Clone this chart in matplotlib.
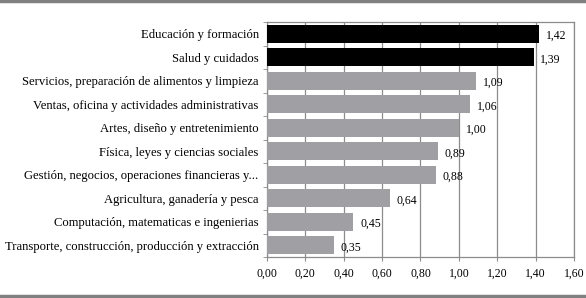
import numpy as np
import matplotlib
matplotlib.use('Agg')
import matplotlib.pyplot as plt
from matplotlib.lines import Line2D

plt.rcParams['font.family'] = ['Liberation Serif', 'DejaVu Serif']

# Data (top to bottom as shown)
categories = [
    "Educación y formación",
    "Salud y cuidados",
    "Servicios, preparación de alimentos y limpieza",
    "Ventas, oficina y actividades administrativas",
    "Artes, diseño y entretenimiento",
    "Física, leyes y ciencias sociales",
    "Gestión, negocios, operaciones financieras y...",
    "Agricultura, ganadería y pesca",
    "Computación, matematicas e ingenierias",
    "Transporte, construcción, producción y extracción",
]
values = [1.42, 1.39, 1.09, 1.06, 1.00, 0.89, 0.88, 0.64, 0.45, 0.35]
highlight = [True, True, False, False, False, False, False, False, False, False]

grid_col = '#8c8c8c'
colors = ['black' if h else '#a0a0a4' for h in highlight]

fig = plt.figure(figsize=(5.86, 2.98), dpi=100)
ax = fig.add_axes([0.4556, 0.1376, 0.9795 - 0.4556, 0.926 - 0.1376])

y = np.arange(len(categories))[::-1]
bars = ax.barh(y, values, height=0.78, color=colors, zorder=3)

ax.set_xlim(0, 1.6)
ax.set_ylim(-0.5, len(categories) - 0.5)
ax.set_xticks(np.arange(0, 1.61, 0.2))
ax.set_xticklabels([f"{v:.2f}".replace('.', ',') for v in np.arange(0, 1.61, 0.2)],
                   fontsize=8.5)
ax.set_yticks(y)
ax.set_yticklabels(categories, fontsize=9.1)
ax.tick_params(axis='y', length=0, pad=6)
ax.tick_params(axis='x', length=3, color=grid_col, pad=5)
ax.set_yticks(np.arange(-0.5, len(categories), 1), minor=True)
ax.tick_params(axis='y', which='minor', length=3, color=grid_col)

ax.grid(axis='x', color=grid_col, linewidth=0.9, zorder=0)
ax.set_axisbelow(True)
for s in ax.spines.values():
    s.set_color(grid_col)
    s.set_linewidth(0.9)

# value labels
for bar, v in zip(bars, values):
    ax.text(bar.get_width() + 0.035, bar.get_y() + bar.get_height() / 2 - 0.1,
            f"{v:.2f}".replace('.', ','), va='center', ha='left', fontsize=8.5)

# frame lines at top and bottom of the figure
fig.add_artist(Line2D([0, 1], [0.996, 0.996], color='#808080', lw=2.5,
                      transform=fig.transFigure))
fig.add_artist(Line2D([0, 1], [0.008, 0.008], color='#808080', lw=2.5,
                      transform=fig.transFigure))

plt.savefig('out.png', dpi=100)
